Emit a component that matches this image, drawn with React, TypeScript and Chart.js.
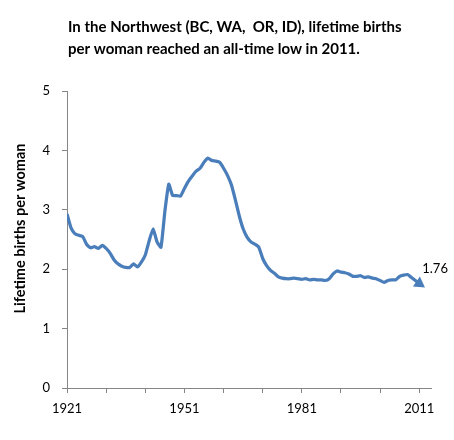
import React, { useEffect, useRef } from "react";
import { Chart, registerables } from "chart.js";

Chart.register(...registerables);

const years = [
  1921, 1922, 1923, 1924, 1925, 1926, 1927, 1928, 1929, 1930,
  1931, 1932, 1933, 1934, 1935, 1936, 1937, 1938, 1939, 1940,
  1941, 1942, 1943, 1944, 1945, 1946, 1947, 1948, 1949, 1950,
  1951, 1952, 1953, 1954, 1955, 1956, 1957, 1958, 1959, 1960,
  1961, 1962, 1963, 1964, 1965, 1966, 1967, 1968, 1969, 1970,
  1971, 1972, 1973, 1974, 1975, 1976, 1977, 1978, 1979, 1980,
  1981, 1982, 1983, 1984, 1985, 1986, 1987, 1988, 1989, 1990,
  1991, 1992, 1993, 1994, 1995, 1996, 1997, 1998, 1999, 2000,
  2001, 2002, 2003, 2004, 2005, 2006, 2007, 2008, 2009, 2010,
  2011,
];

const births = [
  2.93, 2.70, 2.60, 2.57, 2.55, 2.42, 2.36, 2.38, 2.35, 2.40,
  2.35, 2.27, 2.16, 2.09, 2.05, 2.03, 2.03, 2.09, 2.04, 2.12,
  2.24, 2.48, 2.68, 2.46, 2.37, 2.97, 3.43, 3.24, 3.24, 3.23,
  3.36, 3.48, 3.57, 3.65, 3.70, 3.80, 3.87, 3.83, 3.82, 3.80,
  3.70, 3.58, 3.42, 3.17, 2.90, 2.68, 2.54, 2.46, 2.42, 2.37,
  2.18, 2.06, 1.98, 1.93, 1.87, 1.85, 1.84, 1.84, 1.85, 1.84,
  1.83, 1.84, 1.82, 1.83, 1.82, 1.82, 1.81, 1.84, 1.92, 1.97,
  1.95, 1.94, 1.92, 1.88, 1.88, 1.89, 1.86, 1.87, 1.85, 1.84,
  1.81, 1.78, 1.81, 1.82, 1.82, 1.88, 1.90, 1.91, 1.86, 1.81,
  1.76,
];

const xTickYears = [1921, 1931, 1941, 1951, 1961, 1971, 1981, 1991, 2001, 2011];
const xLabelYears = [1921, 1951, 1981, 2011];
const yTicks = [0, 1, 2, 3, 4, 5];
const xMin = 1921;
const xMax = 2014;
const titleLines = [
  "In the Northwest (BC, WA,  OR, ID), lifetime births",
  "per woman reached an all-time low in 2011.",
];
const yTitle = "Lifetime births per woman";
const lastLabel = "1.76";

const FONT = "Lato, 'Open Sans', sans-serif";
const AXIS = "#868686";

const textPlugin = {
  id: "texts",
  afterDraw(chart: any) {
    const ctx = chart.ctx as CanvasRenderingContext2D;
    const a = chart.chartArea;
    ctx.save();
    ctx.fillStyle = "#000";
    ctx.font = `bold 15px ${FONT}`;
    ctx.textAlign = "left";
    ctx.textBaseline = "middle";
    titleLines.forEach((t, i) => ctx.fillText(t, a.left + 1, 27 + i * 22));
    ctx.font = `bold 14.5px ${FONT}`;
    ctx.translate(20, (a.top + a.bottom) / 2 - 11);
    ctx.rotate(-Math.PI / 2);
    ctx.textAlign = "center";
    ctx.fillText(yTitle, 0, 0);
    ctx.restore();

    const meta = chart.getDatasetMeta(0);
    const pt = meta.data[meta.data.length - 1];
    if (pt) {
      ctx.save();
      ctx.fillStyle = "#000";
      ctx.font = `13px ${FONT}`;
      ctx.textAlign = "left";
      ctx.textBaseline = "middle";
      ctx.fillText(lastLabel, pt.x + 3, pt.y - 15);
      ctx.restore();
    }
  },
};

export default function App() {
  const ref = useRef<HTMLCanvasElement | null>(null);

  useEffect(() => {
    if (!ref.current) return;
    const n = years.length;
    const chart = new Chart(ref.current, {
      type: "line",
      data: {
        datasets: [
          {
            data: years.map((y, i) => ({ x: y, y: births[i] })),
            borderColor: "#4a7ebb",
            backgroundColor: "#4a7ebb",
            borderWidth: 3.25,
            tension: 0.15,
            pointRadius: years.map((_, i) => (i === n - 1 ? 7 : 0)),
            pointHoverRadius: 0,
            pointStyle: "triangle",
            pointRotation: 125,
            pointBorderWidth: 0,
          },
        ],
      },
      options: {
        responsive: false,
        animation: false,
        events: [],
        layout: { padding: { top: 91, right: 23, left: 0, bottom: 0 } },
        plugins: {
          legend: { display: false },
          title: { display: false },
          tooltip: { enabled: false },
        },
        scales: {
          x: {
            type: "linear",
            min: xMin,
            max: xMax,
            afterBuildTicks: (scale: any) => {
              scale.ticks = xTickYears.map((v) => ({ value: v }));
            },
            afterFit: (scale: any) => {
              scale.height = 52;
            },
            grid: { drawOnChartArea: false, tickLength: 5, color: AXIS },
            border: { display: true, color: AXIS, width: 1 },
            ticks: {
              autoSkip: false,
              maxRotation: 0,
              padding: 8,
              color: "#000",
              font: { family: FONT, size: 13 },
              callback: (v: any) => (xLabelYears.includes(Number(v)) ? String(v) : ""),
            },
          },
          y: {
            min: 0,
            max: 5,
            afterBuildTicks: (scale: any) => {
              scale.ticks = yTicks.map((v) => ({ value: v }));
            },
            afterFit: (scale: any) => {
              scale.width = 67;
            },
            grid: { drawOnChartArea: false, tickLength: 5, color: AXIS },
            border: { display: true, color: AXIS, width: 1 },
            ticks: {
              padding: 12,
              color: "#000",
              font: { family: FONT, size: 13 },
            },
          },
        },
      },
      plugins: [textPlugin],
    });
    return () => chart.destroy();
  }, []);

  return (
    <div style={{ position: "fixed", left: 0, top: 0, width: 454, height: 440, background: "#fff" }}>
      <canvas ref={ref} width={454} height={440} style={{ width: 454, height: 440, display: "block" }} />
    </div>
  );
}
